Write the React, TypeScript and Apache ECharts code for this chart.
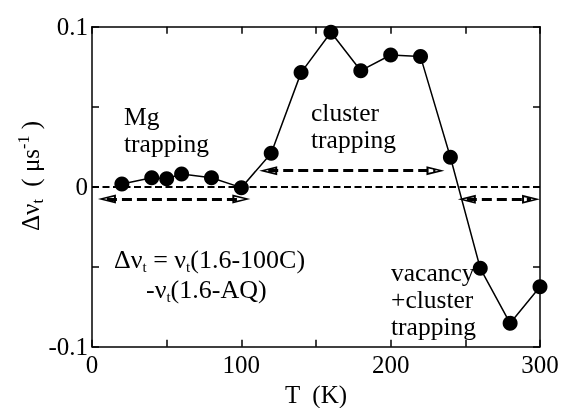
import React, { useEffect, useRef } from 'react';
import * as echarts from 'echarts';

const temps = [20, 40, 50, 60, 80, 100, 120, 140, 160, 180, 200, 220, 240, 260, 280, 300];
const dNu = [0.0017, 0.0056, 0.005, 0.0079, 0.0056, -0.0006, 0.0209, 0.0713, 0.0965, 0.0725, 0.0823, 0.0813, 0.0184, -0.051, -0.0854, -0.0625];
const xTickLabels = [0, 100, 200, 300];
const yTickLabels = [-0.1, 0, 0.1];
const baselineLevel = 0.002;
const arrowFrom = [10, 118, 251];
const arrowTo = [100, 230, 294];
const arrowLevel = [-0.0077, 0.01, -0.0079];

const serif = "'Liberation Serif', 'Times New Roman', serif";
const arrowPath = 'path://M5,0 L10,18 L0,18 Z M5,6 L2.6,16 L7.4,16 Z';

export default function App() {
  const ref = useRef<HTMLDivElement>(null);
  useEffect(() => {
    const chart = echarts.init(ref.current!, null, { renderer: 'svg' });
    const axisLine = { show: true, onZero: false, lineStyle: { color: '#000', width: 1.5 } };
    const axisTick = { show: true, inside: true, length: 7, lineStyle: { color: '#000', width: 1.5 } };
    const labelStyle = { color: '#000', fontSize: 25, fontFamily: serif };
    const fmtY = (v: number) => {
      const r = Math.round(v * 100) / 100;
      return yTickLabels.some((t) => Math.abs(t - r) < 1e-9) ? String(r === 0 ? 0 : r) : '';
    };
    const fmtX = (v: number) => (xTickLabels.includes(Math.round(v)) ? String(Math.round(v)) : '');
    const eqRich = {
      s: { fontSize: 15, fontFamily: serif, lineHeight: 18, verticalAlign: 'bottom', color: '#000' },
    };
    const yRich = {
      s: { fontSize: 16, fontFamily: serif, lineHeight: 10, verticalAlign: 'bottom', color: '#000' },
      p: { fontSize: 16, fontFamily: serif, lineHeight: 10, verticalAlign: 'top', color: '#000' },
    };
    const arrowLines = arrowFrom.map((f, i) => {
      const ls = { color: '#000', width: 3, type: [10, 5] };
      return [
        { coord: [f, arrowLevel[i]], symbol: arrowPath, symbolSize: [9, 18], lineStyle: ls },
        { coord: [arrowTo[i], arrowLevel[i]], symbol: arrowPath, symbolSize: [9, 18], lineStyle: ls },
      ];
    });
    const textStyle = (text: string, fs: number, lh: number) => ({
      text,
      fill: '#000',
      fontSize: fs,
      fontFamily: serif,
      lineHeight: lh,
      align: 'left',
      verticalAlign: 'top',
    });
    chart.setOption({
      animation: false,
      grid: { left: 92, right: 22, top: 26.7, bottom: 61.3, containLabel: false, outerBoundsMode: 'none' },
      xAxis: [
        {
          type: 'value', min: 0, max: 300, interval: 50, position: 'bottom',
          axisLine, axisTick,
          axisLabel: { ...labelStyle, margin: 5, formatter: fmtX },
          splitLine: { show: false },
          name: 'T  (K)', nameLocation: 'middle', nameGap: 35,
          nameTextStyle: { ...labelStyle, lineHeight: 24 },
        },
        {
          type: 'value', min: 0, max: 300, interval: 50, position: 'top',
          axisLine, axisTick, axisLabel: { show: false }, splitLine: { show: false },
        },
      ],
      yAxis: [
        {
          type: 'value', min: -0.1, max: 0.1, interval: 0.05, position: 'left',
          axisLine, axisTick,
          axisLabel: { ...labelStyle, margin: 4, formatter: fmtY },
          splitLine: { show: false },
        },
        {
          type: 'value', min: -0.1, max: 0.1, interval: 0.05, position: 'right',
          axisLine, axisTick, axisLabel: { show: false }, splitLine: { show: false },
        },
      ],
      series: [
        {
          type: 'line',
          xAxisIndex: 0,
          yAxisIndex: 0,
          data: temps.map((t, i) => [t, dNu[i]]),
          symbol: 'circle',
          symbolSize: 15,
          itemStyle: { color: '#000' },
          lineStyle: { color: '#000', width: 1.5 },
          z: 3,
          markLine: {
            silent: true,
            symbol: 'none',
            label: { show: false },
            emphasis: { disabled: true },
            data: [
              { yAxis: baselineLevel, lineStyle: { color: '#000', width: 2, type: [7, 3.5] } },
              ...arrowLines,
            ],
          },
        },
      ],
      graphic: [
        { type: 'text', x: 124, y: 103, style: textStyle('Mg\ntrapping', 25.5, 27) },
        { type: 'text', x: 311, y: 99, style: textStyle('cluster\ntrapping', 25.5, 27) },
        { type: 'text', x: 391, y: 259, style: textStyle('vacancy\n+cluster\ntrapping', 25.5, 27) },
        {
          type: 'text', x: 114, y: 244,
          style: { ...textStyle('Δν{s|t} = ν{s|t}(1.6-100C)', 26, 30), rich: eqRich },
        },
        {
          type: 'text', x: 146, y: 274,
          style: { ...textStyle('-ν{s|t}(1.6-AQ)', 26, 30), rich: eqRich },
        },
        {
          type: 'text', x: 30, y: 176, rotation: Math.PI / 2,
          style: { ...textStyle('Δν{s|t}  ( μs{p|-1} )', 25, 30), align: 'center', verticalAlign: 'middle', rich: yRich },
        },
      ],
    });
    return () => chart.dispose();
  }, []);
  return <div ref={ref} style={{ position: 'fixed', left: 0, top: 0, width: 562, height: 408 }} />;
}
